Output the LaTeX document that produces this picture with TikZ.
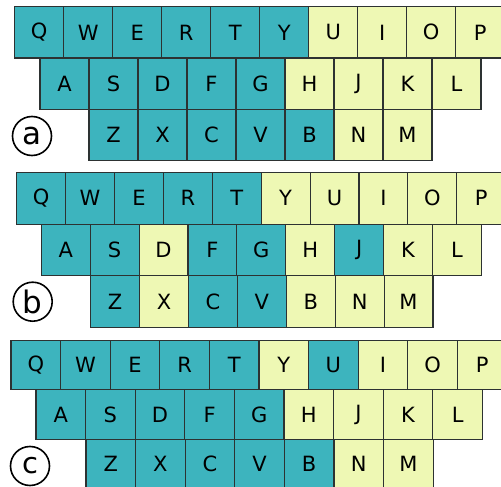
\documentclass[tikz,border=0pt]{standalone}
\usepackage{fontspec}
\setmainfont{DejaVu Sans}
\definecolor{keyteal}{RGB}{61,180,190}
\definecolor{keyyel}{RGB}{238,248,180}
\definecolor{keyline}{RGB}{45,50,50}
\tikzset{
  key/.style={draw=keyline, line width=1.1pt, inner sep=0pt, outer sep=0pt,
    font=\fontsize{21}{24}\selectfont},
  tag/.style={circle, draw=black, line width=1.6pt, inner sep=0pt, minimum size=39pt}
}
% prefix, left x, top y, key width, key height, list of letter/colour
\newcommand\kbrow[6]{%
  \foreach \L/\C [count=\i from 0] in {#6} {
    \node[key, fill=\C, minimum width=#4pt, minimum height=#5pt]
      (#1-\L) at ({#2+(\i+0.5)*#4}, {#3+0.5*#5}) {\L};
  }}
\begin{document}
\begin{tikzpicture}[x=1pt,y=-1pt]
\useasboundingbox (0,0) rectangle (501,487);
% ---------- keyboard a ----------
\kbrow{a}{14.7}{6.7}{49}{51.3}{Q/keyteal,W/keyteal,E/keyteal,R/keyteal,T/keyteal,Y/keyteal,U/keyyel,I/keyyel,O/keyyel,P/keyyel}
\kbrow{a}{40}{58}{49}{51.3}{A/keyteal,S/keyteal,D/keyteal,F/keyteal,G/keyteal,H/keyyel,J/keyyel,K/keyyel,L/keyyel}
\kbrow{a}{89}{109.3}{49}{51.3}{Z/keyteal,X/keyteal,C/keyteal,V/keyteal,B/keyteal,N/keyyel,M/keyyel}
\node[tag, font=\fontsize{31}{32}\selectfont] (tag-a) at (32,136) {a};
% ---------- keyboard b ----------
\kbrow{b}{16.7}{172.5}{48.9}{51.6}{Q/keyteal,W/keyteal,E/keyteal,R/keyteal,T/keyteal,Y/keyyel,U/keyyel,I/keyyel,O/keyyel,P/keyyel}
\kbrow{b}{41.3}{224.1}{48.9}{51.6}{A/keyteal,S/keyteal,D/keyyel,F/keyteal,G/keyteal,H/keyyel,J/keyteal,K/keyyel,L/keyyel}
\kbrow{b}{90.7}{275.7}{48.9}{51.6}{Z/keyteal,X/keyyel,C/keyteal,V/keyteal,B/keyyel,N/keyyel,M/keyyel}
\node[tag, font=\fontsize{31}{32}\selectfont] (tag-b) at (32.7,301.7) {b};
% ---------- keyboard c ----------
\kbrow{c}{11}{340.5}{49.6}{49.3}{Q/keyteal,W/keyteal,E/keyteal,R/keyteal,T/keyteal,Y/keyyel,U/keyteal,I/keyyel,O/keyyel,P/keyyel}
\kbrow{c}{36}{389.8}{49.6}{49.3}{A/keyteal,S/keyteal,D/keyteal,F/keyteal,G/keyteal,H/keyyel,J/keyyel,K/keyyel,L/keyyel}
\kbrow{c}{86}{439.1}{49.6}{49.3}{Z/keyteal,X/keyteal,C/keyteal,V/keyteal,B/keyteal,N/keyyel,M/keyyel}
\node[tag, font=\fontsize{29}{30}\selectfont] (tag-c) at (30,466) {c};
\end{tikzpicture}
\end{document}
